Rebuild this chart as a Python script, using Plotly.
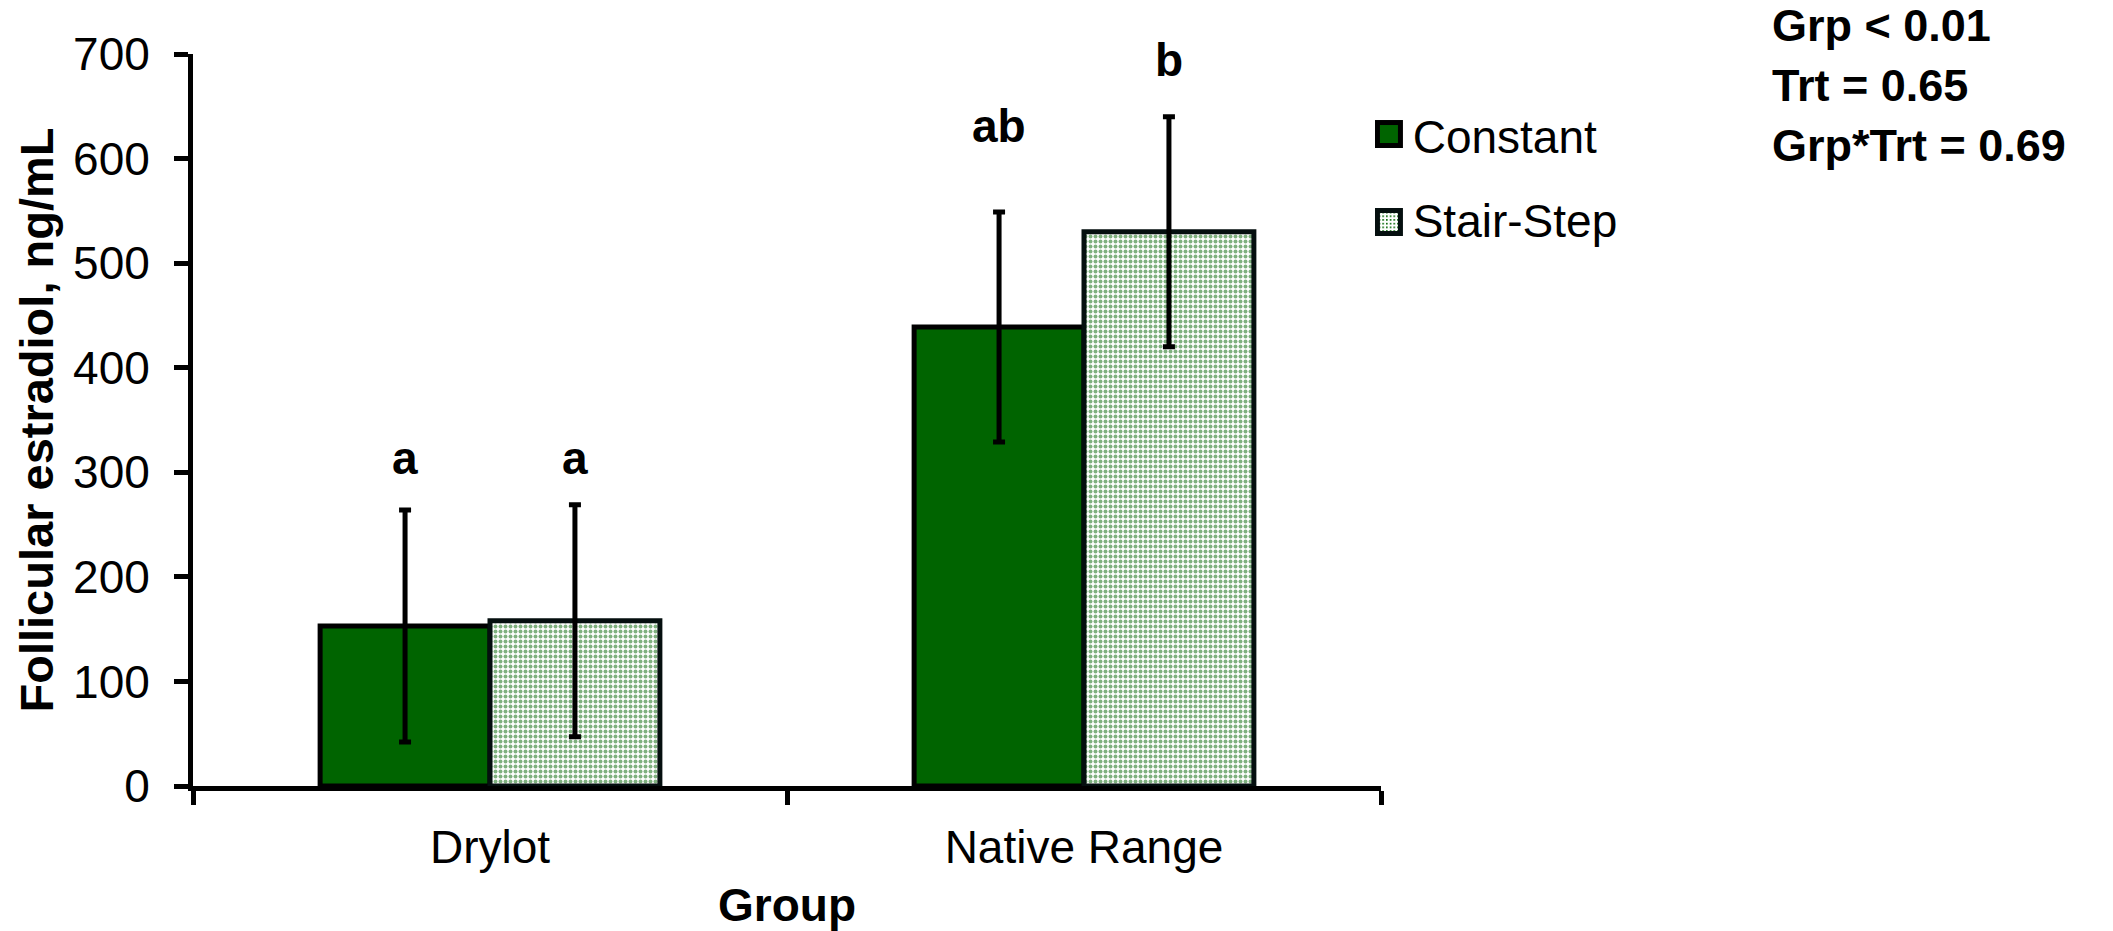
import base64
import plotly.graph_objects as go

groups = ["Drylot", "Native Range"]
constant_mean = [153, 439]
constant_se = [111, 110]
stair_mean = [158, 530]
stair_se = [111, 110]
constant_letters = ["a", "ab"]
stair_letters = ["a", "b"]
constant_letter_y = [302, 620]
stair_letter_y = [302, 683]
series_names = ["Constant", "Stair-Step"]
stats_lines = ["Grp < 0.01", "Trt = 0.65", "Grp*Trt = 0.69"]

FONT = "Liberation Sans, Arial, sans-serif"
GREEN = "#006400"

fig = go.Figure()
fig.add_trace(go.Bar(
    name=series_names[0], x=groups, y=constant_mean, showlegend=False,
    marker=dict(color=GREEN, line=dict(color="black", width=5)),
    error_y=dict(type="data", array=constant_se, color="black", thickness=5, width=6),
))
fig.add_trace(go.Bar(
    name=series_names[1], x=groups, y=stair_mean, showlegend=False,
    marker=dict(color="white", line=dict(color="#050f0f", width=5),
                pattern=dict(shape=".", fgcolor=GREEN, bgcolor="white", size=5, solidity=0.5)),
    error_y=dict(type="data", array=stair_se, color="black", thickness=5, width=6),
))
# legend entries (their swatches are drawn larger as images below)
for nm in series_names:
    fig.add_trace(go.Scatter(
        name=nm, x=[None], y=[None], mode="markers", showlegend=True,
        marker=dict(color="rgba(0,0,0,0)", size=1, line=dict(width=0)), hoverinfo="skip",
        legendgroup=nm,
    ))

annotations = []
for g, lab, yy in zip(groups, constant_letters, constant_letter_y):
    annotations.append(dict(x=g, y=yy, xref="x", yref="y", text=lab, showarrow=False,
                            xshift=-85, yshift=-16, yanchor="bottom",
                            font=dict(family=FONT, size=46, color="black", weight="bold")))
for g, lab, yy in zip(groups, stair_letters, stair_letter_y):
    annotations.append(dict(x=g, y=yy, xref="x", yref="y", text=lab, showarrow=False,
                            xshift=85, yshift=-16, yanchor="bottom",
                            font=dict(family=FONT, size=46, color="black", weight="bold")))
stat_y = [1.0007, 0.920, 0.838]
for line, yy in zip(stats_lines, stat_y):
    annotations.append(dict(x=1.3274, y=yy, xref="paper", yref="paper", text=line,
                            showarrow=False, xanchor="left", yanchor="bottom",
                            font=dict(family=FONT, size=45, color="black", weight="bold")))


def svg_uri(svg):
    return "data:image/svg+xml;base64," + base64.b64encode(svg.encode()).decode()


sw_const = svg_uri(
    "<svg xmlns='http://www.w3.org/2000/svg' width='28' height='28'>"
    "<rect x='2.5' y='2.5' width='23' height='23' fill='#006400' stroke='#000' stroke-width='5'/></svg>")
sw_stair = svg_uri(
    "<svg xmlns='http://www.w3.org/2000/svg' width='28' height='28'>"
    "<defs><pattern id='p' width='3.7' height='3.7' patternUnits='userSpaceOnUse'>"
    "<rect width='3.7' height='3.7' fill='white'/><rect width='1.6' height='1.6' fill='#006400'/></pattern></defs>"
    "<rect x='2.5' y='2.5' width='23' height='23' fill='url(#p)' stroke='#050f0f' stroke-width='5'/></svg>")

images = [
    dict(source=sw_const, xref="paper", yref="paper", x=0.9949, y=0.9098,
         sizex=28 / 1188, sizey=28 / 732, xanchor="left", yanchor="top",
         sizing="stretch", layer="above"),
    dict(source=sw_stair, xref="paper", yref="paper", x=0.9949, y=0.7896,
         sizex=28 / 1188, sizey=28 / 732, xanchor="left", yanchor="top",
         sizing="stretch", layer="above"),
]

fig.update_layout(
    width=2113, height=931,
    margin=dict(l=193, r=732, t=54, b=145),
    paper_bgcolor="white", plot_bgcolor="white",
    barmode="group", bargap=0.428, bargroupgap=0,
    font=dict(family=FONT, size=46, color="black"),
    showlegend=True,
    legend=dict(x=0.993, xanchor="left", y=0.9385, yanchor="top",
                font=dict(family=FONT, size=46, color="black"),
                traceorder="grouped", tracegroupgap=21, itemwidth=30,
                bgcolor="rgba(0,0,0,0)"),
    annotations=annotations,
    images=images,
    xaxis=dict(
        automargin=False,
        showline=True, linecolor="black", linewidth=5,
        ticks="outside", ticklen=14, tickwidth=5, tickcolor="black",
        tickson="boundaries", ticklabelstandoff=17,
        title=dict(text="<b>Group</b>", standoff=26, font=dict(size=46)),
        tickfont=dict(size=46),
    ),
    yaxis=dict(
        automargin=False,
        range=[0, 700], dtick=100, showgrid=False, zeroline=False,
        showline=True, linecolor="black", linewidth=5,
        ticks="outside", ticklen=14, tickwidth=5, tickcolor="black",
        ticklabelstandoff=15,
        title=dict(text="<b>Follicular estradiol, ng/mL</b>", standoff=6, font=dict(size=47)),
        tickfont=dict(size=46),
    ),
)

fig.write_html("out.html")
